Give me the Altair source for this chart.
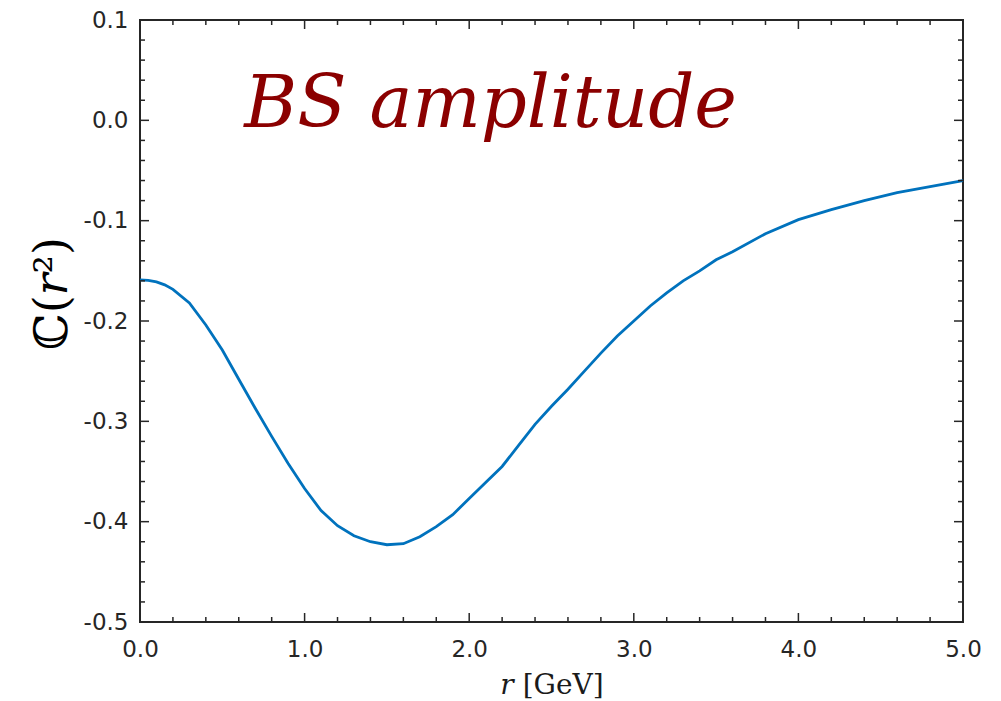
import altair as alt
import pandas as pd

# ---- data ----
r_vals = [0.0, 0.05, 0.1, 0.15, 0.2, 0.3, 0.4, 0.5, 0.6, 0.7, 0.8, 0.9,
          1.0, 1.1, 1.2, 1.3, 1.4, 1.5, 1.6, 1.7, 1.8, 1.9, 2.0, 2.1, 2.2,
          2.3, 2.4, 2.5, 2.6, 2.7, 2.8, 2.9, 3.0, 3.1, 3.2, 3.3, 3.4, 3.5,
          3.6, 3.8, 4.0, 4.2, 4.4, 4.6, 4.8, 5.0]
c_vals = [-0.1590, -0.1595, -0.1610, -0.1640, -0.1685, -0.1820, -0.2040,
          -0.2290, -0.2580, -0.2870, -0.3150, -0.3420, -0.3670, -0.3890,
          -0.4040, -0.4140, -0.4200, -0.4230, -0.4220, -0.4150, -0.4050,
          -0.3930, -0.3770, -0.3610, -0.3450, -0.3240, -0.3030, -0.2850,
          -0.2680, -0.2500, -0.2320, -0.2150, -0.2000, -0.1850, -0.1720,
          -0.1600, -0.1500, -0.1390, -0.1310, -0.1130, -0.0990, -0.0890,
          -0.0800, -0.0720, -0.0660, -0.0600]

x_major = [0.0, 1.0, 2.0, 3.0, 4.0, 5.0]
x_minor = [0.2, 0.4, 0.6, 0.8, 1.2, 1.4, 1.6, 1.8, 2.2, 2.4, 2.6, 2.8,
           3.2, 3.4, 3.6, 3.8, 4.2, 4.4, 4.6, 4.8]
y_major = [-0.5, -0.4, -0.3, -0.2, -0.1, 0.0, 0.1]
y_minor = [-0.48, -0.46, -0.44, -0.42, -0.38, -0.36, -0.34, -0.32,
           -0.28, -0.26, -0.24, -0.22, -0.18, -0.16, -0.14, -0.12,
           -0.08, -0.06, -0.04, -0.02, 0.02, 0.04, 0.06, 0.08]

note_text = ["BS amplitude"]
note_x = [2.13]
note_y = [-0.007]

W, H = 823, 602
MAJ, MIN = 9, 5
AXC = "#262626"

xs = alt.Scale(domain=[0, 5], nice=False, zero=False)
ys = alt.Scale(domain=[-0.5, 0.1], nice=False, zero=False)

x_axis = alt.Axis(
    values=x_major, format=".1f", labelPadding=16, labelFlush=False,
    labelFont="DejaVu Sans", labelFontSize=23, labelColor=AXC,
    title="𝑟 [GeV]", titleFont="DejaVu Serif", titleFontSize=28,
    titleFontWeight="normal", titleColor="#1a1a1a",
    titleBaseline="alphabetic", titleY=71)
y_axis = alt.Axis(
    values=y_major, labelPadding=12, labelFlush=False,
    labelFont="DejaVu Sans", labelFontSize=23, labelColor=AXC,
    labelExpr="replace(format(datum.value, '.1f'), '\u2212', '-')",
    title="ℂ(𝑟²)", titleFont="DejaVu Serif", titleFontSize=46,
    titleFontWeight="normal", titleColor="#000000",
    titleAngle=270, titleAlign="center", titleBaseline="middle",
    titleX=-88, titleY=273)

df = pd.DataFrame({"r": r_vals, "c": c_vals})

curve = alt.Chart(df).mark_line(color="#0072BD", strokeWidth=2.8).encode(
    x=alt.X("r:Q", scale=xs, axis=x_axis),
    y=alt.Y("c:Q", scale=ys, axis=y_axis),
)


def xticks(vals, length):
    d = pd.DataFrame({"r": vals})
    bottom = alt.Chart(d).mark_rule(color=AXC, strokeWidth=1.5).encode(
        x=alt.X("r:Q", scale=xs, axis=x_axis),
        y=alt.value(H), y2=alt.value(H - length))
    top = alt.Chart(d).mark_rule(color=AXC, strokeWidth=1.5).encode(
        x=alt.X("r:Q", scale=xs, axis=x_axis),
        y=alt.value(0), y2=alt.value(length))
    return [bottom, top]


def yticks(vals, length):
    d = pd.DataFrame({"c": vals})
    left = alt.Chart(d).mark_rule(color=AXC, strokeWidth=1.5).encode(
        y=alt.Y("c:Q", scale=ys, axis=y_axis),
        x=alt.value(0), x2=alt.value(length))
    right = alt.Chart(d).mark_rule(color=AXC, strokeWidth=1.5).encode(
        y=alt.Y("c:Q", scale=ys, axis=y_axis),
        x=alt.value(W), x2=alt.value(W - length))
    return [left, right]


note = alt.Chart(pd.DataFrame({"t": note_text, "r": note_x, "c": note_y})).mark_text(
    font="DejaVu Serif", fontStyle="italic", fontSize=72, color="#8B0000",
    align="center", baseline="alphabetic").encode(
    x=alt.X("r:Q", scale=xs, axis=x_axis),
    y=alt.Y("c:Q", scale=ys, axis=y_axis),
    text="t:N")

layers = [curve] + xticks(x_major, MAJ) + xticks(x_minor, MIN) + \
    yticks(y_major, MAJ) + yticks(y_minor, MIN) + [note]

chart = alt.layer(*layers).properties(
    width=W, height=H,
    autosize=alt.AutoSizeParams(type="none"),
    padding={"left": 132, "top": 12, "right": 30, "bottom": 79},
).configure_view(
    stroke=AXC, strokeWidth=2
).configure_axis(
    domain=False, ticks=False, grid=False,
)

chart.save("out.html", embed_options={"renderer": "svg", "actions": False})
